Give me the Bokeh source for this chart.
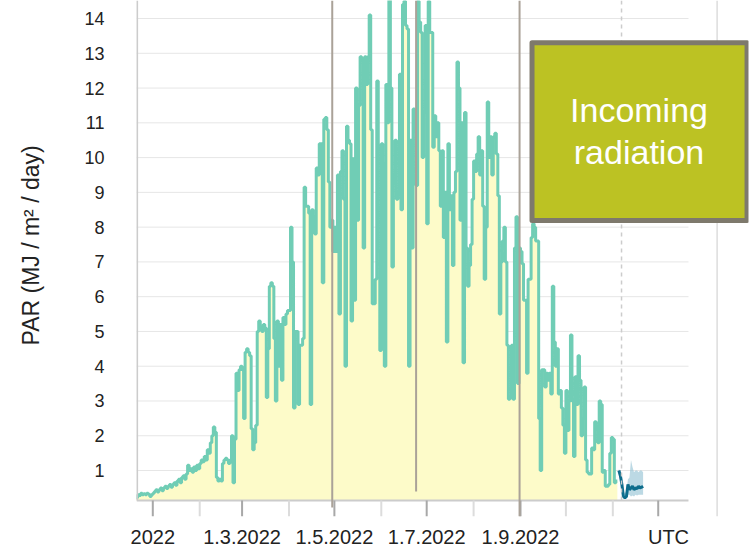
import pandas as pd
from bokeh.plotting import figure
from bokeh.models import FixedTicker, Range1d, Title, LinearAxis
from bokeh.core.properties import value
from bokeh.embed import file_html
from bokeh.resources import INLINE

FONT = "Liberation Sans"

# ---------------- data (daily PAR, MJ / m2 / day) ----------------
par_dec = [0.22, 0.3, 0.28, 0.35, 0.3, 0.33, 0.3, 0.35, 0.32, 0.25, 0.3]
par_jan = [0.35, 0.4, 0.45, 0.38, 0.45, 0.5, 0.42, 0.5, 0.55, 0.48,
           0.55, 0.6, 0.52, 0.6, 0.65, 0.58, 0.7, 0.75, 0.65, 0.8,
           0.85, 0.75, 0.9, 1.15, 1.0, 1.05, 0.95, 1.1, 1.0, 1.15, 1.05]
par_feb = [1.2, 1.3, 1.25, 1.4, 1.3, 1.6, 1.5, 1.8, 2.0, 2.25,
           2.1, 0.8, 0.7, 0.75, 0.7, 1.2, 1.3, 1.35, 1.3, 1.2,
           1.3, 2.0, 0.65, 1.9, 3.8, 3.3, 3.9, 4.0]
par_mar = [3.9, 2.5, 4.4, 4.5, 4.4, 4.3, 2.2, 1.6, 1.8, 2.3,
           5.0, 5.3, 5.1, 5.0, 5.2, 5.1, 3.1, 4.5, 6.3, 6.4,
           6.3, 4.8, 3.0, 5.3, 4.0, 5.2, 3.6, 5.4, 5.2, 5.5, 5.6]
par_apr = [5.6, 8.0, 7.0, 2.8, 5.0, 5.0, 2.9, 4.6, 4.6, 4.8,
           9.15, 8.6, 8.6, 8.4, 2.9, 8.5, 8.3, 7.8, 9.7, 9.5,
           10.4, 10.4, 6.4, 11.1, 11.15, 10.8, 9.3, 8.0, 8.2, 7.3]
par_may = [8.0, 7.3, 9.5, 5.5, 9.6, 10.2, 8.8, 4.0, 10.9, 10.5,
           10.4, 5.3, 9.97, 5.9, 12.0, 8.2, 11.5, 12.9, 12.8, 7.4,
           12.9, 12.1, 12.9, 14.1, 10.8, 5.8, 5.8, 6.5, 12.2, 7.3, 4.45]
par_jun = [10.4, 9.8, 4.0, 12.1, 11.0, 14.6, 12.0, 6.85, 9.5, 10.5,
           8.8, 9.0, 12.4, 8.5, 14.4, 14.5, 13.8, 13.7, 4.0, 10.5,
           7.4, 11.4, 10.8, 9.2, 14.5, 13.9, 13.6, 10.0, 11.3, 13.8]
par_jul = [8.1, 14.5, 13.6, 13.6, 10.3, 11.2, 10.6, 11.0, 10.2, 8.6,
           10.2, 7.7, 9.0, 4.7, 10.4, 8.5, 8.9, 6.9, 9.0, 9.6,
           12.75, 12.0, 8.2, 11.0, 4.1, 11.3, 7.4, 6.3, 6.9, 7.5, 8.8]
par_aug = [9.9, 9.6, 10.1, 10.6, 9.5, 10.2, 8.6, 6.5, 8.0, 11.6,
           10.0, 10.6, 9.5, 10.6, 10.7, 10.1, 8.9, 5.5, 7.0, 7.6,
           8.0, 7.0, 4.6, 3.05, 3.1, 4.6, 3.05, 7.4, 8.3, 3.5, 7.4]
par_sep = [7.3, 6.95, 5.9, 5.9, 3.8, 6.5, 6.5, 7.7, 8.1, 8.0,
           7.6, 7.6, 2.5, 1.0, 3.9, 3.9, 3.4, 3.8, 3.6, 3.8,
           3.2, 6.3, 4.7, 4.0, 4.5, 3.2, 3.3, 2.8, 2.3, 1.5]
par_oct = [3.3, 2.15, 3.0, 4.9, 3.0, 1.4, 3.7, 2.9, 4.3, 3.6,
           2.0, 2.5, 3.4, 1.3, 0.95, 0.9, 0.9, 1.65, 1.6, 2.4,
           2.2, 1.8, 3.0, 2.9, 0.95, 1.0, 0.55, 0.55, 0.6, 1.5, 1.95]
par_nov = [1.9, 0.65, 0.7]
obs_start = "2021-12-21"

# forecast (daily, from 5.11.2022)
fc_start = "2022-11-05"
fc_mid = [1.0, 0.85, 0.6, 0.25, 0.22, 0.25, 0.6, 0.45, 0.5, 0.55,
          0.45, 0.5, 0.48, 0.55, 0.5, 0.52, 0.55]
fc_hi = [1.05, 0.95, 0.75, 0.4, 0.35, 0.4, 0.75, 0.8, 1.3, 1.1,
         0.95, 1.0, 1.0, 0.95, 1.0, 1.0, 0.95]
fc_lo = [0.9, 0.7, 0.45, 0.2, 0.18, 0.2, 0.3, 0.3, 0.25, 0.28,
         0.25, 0.3, 0.28, 0.3, 0.3, 0.3, 0.3]

# axis ticks
y_ticks = list(range(1, 15))
major_tick_dates = ["2022-01-01", "2022-03-01", "2022-05-01", "2022-07-01", "2022-09-01", "2022-12-01"]
minor_tick_dates = ["2022-02-01", "2022-04-01", "2022-06-01", "2022-08-01", "2022-10-01", "2022-11-01"]
label_dates = ["2022-01-01", "2022-03-01", "2022-05-01", "2022-07-01", "2022-09-01", "2022-12-07 19:00"]
label_texts = ["2022", "1.3.2022", "1.5.2022", "1.7.2022", "1.9.2022", "UTC"]

# markers
event_dates = ["2022-04-29 14:00", "2022-06-24 00:00", "2022-08-31 09:00"]
event_bottoms = [-0.063, 0.4, None]
now_date = "2022-11-06 18:00"
panel_edge_date = "2023-01-08 22:00"

box_text = ["Incoming", "radiation"]


def ms(s):
    return pd.Timestamp(s).value / 1e6


# ---------------- figure ----------------
jan1 = pd.Timestamp("2022-01-01")
x_start = jan1 + pd.Timedelta(days=-10.77)
x_end = jan1 + pd.Timedelta(days=393.66)
y_start, y_end = -0.322, 14.518
axis_base = 0.138            # level of the drawn x axis line
grid_end = pd.Timestamp("2022-12-21")

p = figure(frame_width=612, frame_height=516, x_axis_type="datetime",
           x_range=Range1d(x_start, x_end), y_range=Range1d(y_start, y_end),
           output_backend="svg", toolbar_location=None,
           min_border_left=136, min_border_right=8, min_border_top=0, min_border_bottom=33,
           background_fill_color="white", border_fill_color="white", outline_line_color=None)
p.xgrid.visible = False
p.ygrid.visible = False

# horizontal grid lines (over the chart area only)
p.segment(x0=[x_start] * len(y_ticks), x1=[grid_end] * len(y_ticks), y0=y_ticks, y1=y_ticks,
          line_color="#e6e6e6", line_width=1)

daily = (par_dec + par_jan + par_feb + par_mar + par_apr + par_may + par_jun +
         par_jul + par_aug + par_sep + par_oct + par_nov)
dates = list(pd.date_range(obs_start, periods=len(daily) + 1, freq="D"))
vals = daily + [daily[-1]]

p.varea_step(x=dates, y1=[axis_base] * len(vals), y2=vals, step_mode="after", fill_color="#fdfbc9")
p.step(x=dates, y=vals, mode="after", line_color="#70cdb5", line_width=3)

fdates = list(pd.date_range(fc_start, periods=len(fc_mid), freq="D"))
p.varea(x=fdates, y1=fc_lo, y2=fc_hi, fill_color="#8fbfd2", fill_alpha=0.6)
p.line(x=fdates, y=fc_mid, line_color="#0d6d8c", line_width=3)

# axis lines and tick marks
p.segment(x0=[x_start], x1=[grid_end], y0=[axis_base], y1=[axis_base], line_color="#cccccc", line_width=2)
y_axis_x = x_start + pd.Timedelta(days=0.4)
p.segment(x0=[y_axis_x], x1=[y_axis_x], y0=[axis_base], y1=[y_end], line_color="#cccccc", line_width=2)
mj = [pd.Timestamp(d) for d in major_tick_dates]
mn = [pd.Timestamp(d) for d in minor_tick_dates]
p.segment(x0=mn, x1=mn, y0=[axis_base] * len(mn), y1=[y_start] * len(mn), line_color="#dcdcdc", line_width=2)
p.segment(x0=mj, x1=mj, y0=[axis_base] * len(mj), y1=[y_start] * len(mj), line_color="#a8a8a8", line_width=2)

# event lines
ev_x = [pd.Timestamp(d) for d in event_dates]
ev_y0 = [b if b is not None else y_start for b in event_bottoms]
p.segment(x0=ev_x, x1=ev_x, y0=ev_y0, y1=[y_end] * len(ev_x), line_color="#aaa298", line_width=2)

# now line and right panel edge
now_x = pd.Timestamp(now_date)
p.segment(x0=[now_x], x1=[now_x], y0=[axis_base], y1=[y_end], line_color="#cccccc",
          line_width=1.5, line_dash="4 4")
pe = pd.Timestamp(panel_edge_date)
p.segment(x0=[pe], x1=[pe], y0=[y_start], y1=[y_end], line_color="#dddddd", line_width=1.5)

# annotation box
box_l = jan1 + pd.Timedelta(days=250.6)
box_r = jan1 + pd.Timedelta(days=392.7)
p.quad(left=[box_l], right=[box_r], top=[13.30], bottom=[8.19], fill_color="#bcc223",
       line_color="#7e796c", line_width=5, line_join="round")
box_cx = jan1 + pd.Timedelta(days=321.3)
p.text(x=[box_cx] * 2, y=[11.37, 10.17], text=box_text, text_font=value(FONT),
       text_font_size="34px", text_color="white", text_align="center", text_baseline="alphabetic")

# axes
p.xaxis.ticker = FixedTicker(ticks=[ms(d) for d in label_dates], minor_ticks=[])
p.xaxis.major_label_overrides = {ms(d): t for d, t in zip(label_dates, label_texts)}
p.xaxis.axis_line_color = None
p.xaxis.major_tick_line_color = None
p.xaxis.minor_tick_line_color = None
p.xaxis.major_tick_in = 0
p.xaxis.major_tick_out = 0
p.xaxis.minor_tick_in = 0
p.xaxis.minor_tick_out = 0
p.xaxis.major_label_standoff = 9
p.xaxis.major_label_text_font = FONT
p.xaxis.major_label_text_font_size = "20px"
p.xaxis.major_label_text_color = "#222222"

p.yaxis.ticker = FixedTicker(ticks=y_ticks, minor_ticks=[])
p.yaxis.axis_line_color = None
p.yaxis.major_tick_line_color = None
p.yaxis.minor_tick_line_color = None
p.yaxis.major_tick_in = 0
p.yaxis.major_tick_out = 0
p.yaxis.major_label_standoff = 32
p.yaxis.major_label_text_font = FONT
p.yaxis.major_label_text_font_size = "18px"
p.yaxis.major_label_text_color = "#222222"

# invisible axis used as a gap between the tick labels and the axis title
gap_axis = LinearAxis(ticker=FixedTicker(ticks=[7], minor_ticks=[]), axis_line_color=None,
                      major_tick_line_color=None, minor_tick_line_color=None,
                      major_tick_in=0, major_tick_out=37, minor_tick_in=0, minor_tick_out=0,
                      major_label_standoff=0, major_label_text_font_size="0px",
                      major_label_text_color=None)
p.add_layout(gap_axis, "left")
ytitle = Title(text="PAR (MJ / m² / day)", align="left", offset=171, vertical_align="middle",
               standoff=0, text_font=FONT, text_font_size="23px", text_font_style="normal",
               text_color="#222222")
p.add_layout(ytitle, "left")

open("out.html", "w").write(file_html(p, INLINE))
